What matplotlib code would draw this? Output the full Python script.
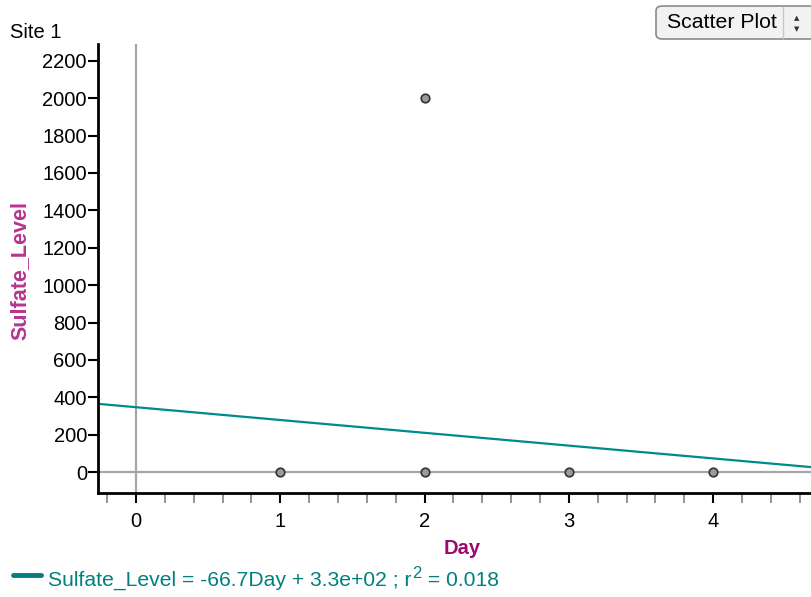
import matplotlib
matplotlib.use("Agg")
import matplotlib.pyplot as plt
from matplotlib.patches import FancyBboxPatch
from matplotlib.ticker import MultipleLocator
import numpy as np

plt.rcParams['font.family'] = ['Liberation Sans', 'DejaVu Sans']

# Data
day = [1, 2, 2, 3, 4]
sulfate_level = [0, 0, 2000, 0, 0]
fit_slope = -68.5
fit_intercept = 347
eq_main = "Sulfate_Level = -66.7Day + 3.3e+02 ; r"
eq_sup = "2"
eq_tail = " = 0.018"
y_ticks = [0, 200, 400, 600, 800, 1000, 1200, 1400, 1600, 1800, 2000, 2200]
x_ticks = [0, 1, 2, 3, 4]

W, H = 812, 597
fig = plt.figure(figsize=(W / 100, H / 100), dpi=100)
ax_l, ax_r, ax_b, ax_t = 98, 812, 493, 44
ax = fig.add_axes([ax_l / W, (H - ax_b) / H, (ax_r - ax_l) / W, (ax_b - ax_t) / H])

xmin, xmax = -0.263, 4.685
ymin, ymax = -112, 2290
ax.set_xlim(xmin, xmax)
ax.set_ylim(ymin, ymax)

# reference lines at zero
ax.axvline(0, color='#a6a6a6', lw=1.6, zorder=1)
ax.axhline(0, color='#a6a6a6', lw=1.6, zorder=1)

# regression line
xs = np.array([xmin, xmax])
ax.plot(xs, fit_slope * xs + fit_intercept, color='#008b8b', lw=1.6, zorder=2, clip_on=True)

# points
ax.scatter(day, sulfate_level, s=38, facecolor='#9a9a9a', edgecolor='#333333',
           linewidth=1.2, zorder=3)

for s in ['top', 'right']:
    ax.spines[s].set_visible(False)
for s in ['left', 'bottom']:
    ax.spines[s].set_linewidth(2)
    ax.spines[s].set_color('black')

ax.set_yticks(y_ticks)
ax.set_xticks(x_ticks)
ax.xaxis.set_minor_locator(MultipleLocator(0.2))
ax.tick_params(axis='y', which='major', length=7, width=1.5, labelsize=14.5, pad=1, colors='black')
ax.tick_params(axis='x', which='major', length=7, width=1.5, labelsize=14.5, pad=7, colors='black')
ax.tick_params(axis='x', which='minor', length=7, width=1.3, color='#8c8c8c')

fig.text(10 / W, 1 - 32 / H, "Site 1", fontsize=14.5, va='center', ha='left')
fig.text(20 / W, 1 - 270 / H, "Sulfate_Level", fontsize=15.5, fontweight='bold',
         color='#b5368f', rotation=90, va='center', ha='center')
fig.text(462 / W, 1 - 549 / H, "Day", fontsize=14.5, fontweight='bold',
         color='#9b0a6e', va='center', ha='center')

# legend line + equation
teal = '#008080'
fig.add_artist(plt.Line2D([13 / W, 41 / W], [1 - 575 / H, 1 - 575 / H], color=teal,
                          lw=3.5, solid_capstyle='round', transform=fig.transFigure))
base_y = 1 - 586 / H
renderer = fig.canvas.get_renderer()
t1 = fig.text(48 / W, base_y, eq_main, fontsize=15.2, color=teal, va='baseline', ha='left')
x1 = t1.get_window_extent(renderer).x1
t2 = fig.text((x1 + 1) / W, base_y + 8 / H, eq_sup, fontsize=12, color=teal,
              va='baseline', ha='left')
x2 = t2.get_window_extent(renderer).x1
fig.text(x2 / W, base_y, eq_tail, fontsize=15.2, color=teal, va='baseline', ha='left')

# "Scatter Plot" dropdown button
btn = FancyBboxPatch((656 / W, 1 - 39 / H), 170 / W, 33 / H,
                     boxstyle="round,pad=0,rounding_size=0.008",
                     transform=fig.transFigure, facecolor='#f2f2f2',
                     edgecolor='#8a8a8a', lw=1.2, clip_on=False)
fig.add_artist(btn)
fig.add_artist(plt.Line2D([783 / W, 783 / W], [1 - 38 / H, 1 - 7 / H], color='#c8c8c8',
                          lw=1, transform=fig.transFigure))
fig.text(722 / W, 1 - 23 / H, "Scatter Plot", fontsize=15.3, va='center', ha='center')
fig.text(797 / W, 1 - 18 / H, "▲", fontsize=5, va='center', ha='center', color='#333333',
         family='DejaVu Sans')
fig.text(797 / W, 1 - 29 / H, "▼", fontsize=5, va='center', ha='center', color='#333333',
         family='DejaVu Sans')

fig.savefig("out.png", dpi=100)
